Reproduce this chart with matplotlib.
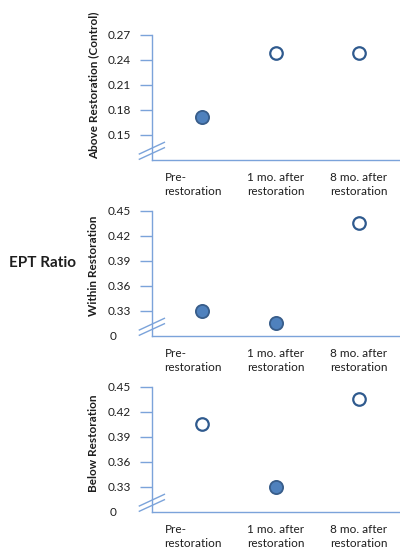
"""EPT ratio before and after restoration at three reaches."""

import matplotlib

matplotlib.use("Agg")
import matplotlib.pyplot as plt
from matplotlib import transforms

plt.rcParams["font.family"] = ["Lato", "DejaVu Sans"]

# -- data --------------------------------------------------------------------
categories = ["Pre-\nrestoration", "1 mo. after\nrestoration", "8 mo. after\nrestoration"]
point_x = [0.1, 1.0, 2.0]

panel_titles = ["Above Restoration (Control)", "Within Restoration", "Below Restoration"]
above_vals = [0.172, 0.2475, 0.2475]
within_vals = [0.330, 0.315, 0.435]
below_vals = [0.405, 0.330, 0.435]
# True = filled marker, False = open marker
above_filled = [True, False, False]
within_filled = [True, True, False]
below_filled = [False, True, False]

above_ticks = [0.15, 0.18, 0.21, 0.24, 0.27]
lower_ticks = [0.33, 0.36, 0.39, 0.42, 0.45]
above_ylim = (0.12, 0.27)
lower_ylim = (0.30, 0.45)
break_label = "0"

# -- style -------------------------------------------------------------------
AXIS_BLUE = "#7ba3da"
FILL_BLUE = "#4f81bd"
EDGE_BLUE = "#385d8a"
OPEN_EDGE = "#2f5a8e"
TEXT = "#1e1e1e"

fig = plt.figure(figsize=(4, 5.52), dpi=100)

panels = [
    (0.71014, above_vals, above_filled, above_ticks, above_ylim, False, 0.60),
    (0.39130, within_vals, within_filled, lower_ticks, lower_ylim, True, 0.56),
    (0.07246, below_vals, below_filled, lower_ticks, lower_ylim, True, 0.545),
]

for (bottom, vals, filled, ticks, ylim, zero_label, label_y), title in zip(panels, panel_titles):
    ax = fig.add_axes([0.38, bottom, 0.62, 0.2270])

    for x, y, f in zip(point_x, vals, filled):
        if f:
            ax.plot(x, y, "o", ms=9.5, mfc=FILL_BLUE, mec=EDGE_BLUE, mew=1.3, clip_on=False)
        else:
            ax.plot(x, y, "o", ms=9.0, mfc="white", mec=OPEN_EDGE, mew=1.6, clip_on=False)

    ax.set_xlim(-0.5, 2.5)
    ax.set_ylim(*ylim)
    ax.set_xticks(range(len(categories)))
    ax.set_xticklabels(categories, multialignment="left", fontsize=8.5, color=TEXT,
                       linespacing=1.4)
    ax.set_yticks(ticks)
    ax.set_yticklabels([f"{t:.2f}" for t in ticks], fontsize=8.5, color=TEXT)

    ax.tick_params(axis="x", length=0, pad=8.5)
    ax.tick_params(axis="y", length=8.6, width=1.0, color=AXIS_BLUE, pad=6.5)

    for side in ("top", "right"):
        ax.spines[side].set_visible(False)
    for side in ("left", "bottom"):
        ax.spines[side].set_color(AXIS_BLUE)
        ax.spines[side].set_linewidth(1.0)

    ax.set_ylabel(title, fontsize=8.5, fontweight="bold", color=TEXT)
    ax.yaxis.set_label_coords(-0.213, label_y)

    # axis break marks
    for y0, y1 in ((0.048, 0.141), (0.006, 0.098)):
        ax.plot([-0.051, 0.050], [y0, y1], color=AXIS_BLUE, lw=1.0,
                transform=ax.transAxes, clip_on=False)

    if zero_label:
        trans = transforms.blended_transform_factory(ax.transAxes, ax.transData)
        ax.text(-0.169, ylim[0], break_label, transform=trans, ha="left",
                va="center", fontsize=8.5, color=TEXT)

fig.text(0.0225, 1 - 263 / 552, "EPT Ratio", fontsize=11, fontweight="bold",
         color=TEXT, ha="left", va="center")

fig.savefig("out.png", dpi=100)
